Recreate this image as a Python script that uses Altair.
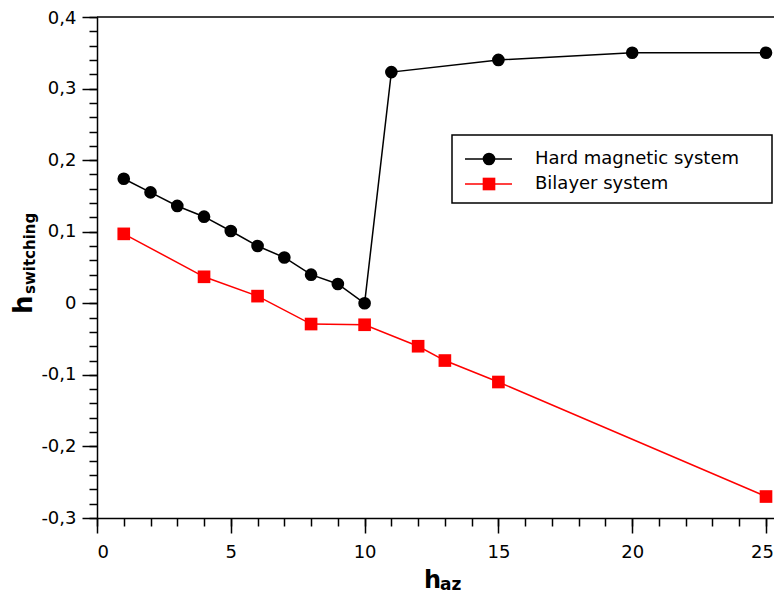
import altair as alt
import pandas as pd

# ---- data ----
hard_x = [1, 2, 3, 4, 5, 6, 7, 8, 9, 10, 11, 15, 20, 25]
hard_y = [0.174, 0.155, 0.136, 0.121, 0.101, 0.080, 0.064, 0.040, 0.027, 0.0,
          0.323, 0.340, 0.350, 0.350]
bil_x = [1, 4, 6, 8, 10, 12, 13, 15, 25]
bil_y = [0.097, 0.037, 0.010, -0.029, -0.030, -0.060, -0.080, -0.110, -0.270]

series = ["Hard magnetic system", "Bilayer system"]
colors = ["#000000", "#ff0000"]
shapes = ["circle", "square"]

x_major = [0, 5, 10, 15, 20, 25]
x_minor = list(range(0, 26))
y_major = [-0.3, -0.2, -0.1, 0.0, 0.1, 0.2, 0.3, 0.4]
y_minor = [round(-0.3 + 0.02 * i, 2) for i in range(36)]

FONT = "DejaVu Sans"
W, H = 677, 501
XMAX = W / 26.76  # keeps the reference's spacing of one unit per 26.76 px

df = pd.concat([
    pd.DataFrame({"x": hard_x, "y": hard_y, "series": series[0]}),
    pd.DataFrame({"x": bil_x, "y": bil_y, "series": series[1]}),
], ignore_index=True)

xscale = alt.Scale(domain=[0, XMAX], nice=False, zero=False)
yscale = alt.Scale(domain=[-0.3, 0.4], nice=False, zero=False)
cscale = alt.Scale(domain=series, range=colors)
sscale = alt.Scale(domain=series, range=shapes)

ylabel = "datum.value == 0 ? '0' : replace(toString(round(datum.value*10)/10), '.', ',')"

x_major_axis = alt.Axis(
    values=x_major, tickSize=15, labelPadding=10, title=None,
    orient="bottom", domain=True, labelFontSize=18,
    labelOffset={"condition": {"test": "datum.value == 25", "value": -4}, "value": 0},
)
y_major_axis = alt.Axis(
    values=y_major, tickSize=15, labelPadding=6, title=None,
    orient="left", domain=True, labelExpr=ylabel, labelFontSize=18,
    labelOffset={"condition": {"test": "datum.value > 0.35", "value": 1}, "value": 0},
)
x_minor_axis = alt.Axis(values=x_minor, tickSize=8, labels=False, title=None,
                        orient="bottom", domain=False)
y_minor_axis = alt.Axis(values=y_minor, tickSize=8, labels=False, title=None,
                        orient="left", domain=False)

lines = alt.Chart(df).mark_line(strokeWidth=1.5).encode(
    x=alt.X("x:Q", scale=xscale, axis=x_major_axis),
    y=alt.Y("y:Q", scale=yscale, axis=y_major_axis),
    color=alt.Color("series:N", scale=cscale, legend=None),
    detail="series:N",
)

points = alt.Chart(df).mark_point(filled=True, size=160, opacity=1).encode(
    x=alt.X("x:Q", scale=xscale, axis=x_minor_axis),
    y=alt.Y("y:Q", scale=yscale, axis=y_minor_axis),
    color=alt.Color("series:N", scale=cscale, legend=None),
    shape=alt.Shape("series:N", scale=sscale, legend=None),
)

top = alt.Chart(pd.DataFrame({"y": [0.4]})).mark_rule(strokeWidth=1.5, color="black").encode(
    y=alt.Y("y:Q", scale=yscale, axis=None),
)

# ---- legend (drawn manually) ----
leg_df = pd.DataFrame({"series": series})
box = alt.Chart(pd.DataFrame({"a": [0]})).mark_rect(
    fill="white", stroke="black", strokeWidth=1.5
).encode(x=alt.value(355), x2=alt.value(675), y=alt.value(118), y2=alt.value(186))

legend_layers = [box]
row_y = [142, 167]
for i, s in enumerate(series):
    sub = alt.Chart(leg_df).transform_filter(alt.datum.series == s)
    legend_layers.append(
        sub.mark_rule(strokeWidth=1.5, color=colors[i]).encode(
            x=alt.value(368), x2=alt.value(415), y=alt.value(row_y[i]))
    )
    legend_layers.append(
        sub.mark_point(filled=True, size=160, opacity=1, shape=shapes[i], color=colors[i]).encode(
            x=alt.value(392), y=alt.value(row_y[i]))
    )
    legend_layers.append(
        sub.mark_text(align="left", baseline="middle", font=FONT, fontSize=18, color="black").encode(
            x=alt.value(438), y=alt.value(row_y[i]), text="series:N")
    )

# ---- axis titles with subscripts ----
tdf = pd.DataFrame({"a": [0]})
xt_main = alt.Chart(tdf).mark_text(text="h", font=FONT, fontSize=24, fontWeight="bold",
                                   align="left", baseline="alphabetic", color="black").encode(
    x=alt.value(327), y=alt.value(571))
xt_sub = alt.Chart(tdf).mark_text(text="az", font=FONT, fontSize=17, fontWeight="bold",
                                  align="left", baseline="alphabetic", color="black").encode(
    x=alt.value(343), y=alt.value(573))
yt_main = alt.Chart(tdf).mark_text(text="h", font=FONT, fontSize=26, fontWeight="bold", angle=270,
                                   align="left", baseline="alphabetic", color="black").encode(
    x=alt.value(-65), y=alt.value(297))
yt_sub = alt.Chart(tdf).mark_text(text="switching", font=FONT, fontSize=15, fontWeight="bold",
                                  angle=270, align="left", baseline="alphabetic", color="black").encode(
    x=alt.value(-62), y=alt.value(277))

chart = alt.layer(
    lines, points, top, *legend_layers, xt_main, xt_sub, yt_main, yt_sub
).resolve_axis(x="independent", y="independent").properties(
    width=W, height=H,
    autosize=alt.AutoSizeParams(type="none"),
    padding={"left": 89, "top": 9, "right": 0, "bottom": 78},
).configure_axis(
    labelFont=FONT, labelColor="black", domainColor="black", tickColor="black",
    domainWidth=1.5, tickWidth=1.5, grid=False,
).configure_view(stroke=None)

chart.save("out.html", embed_options={"renderer": "svg", "actions": False})
